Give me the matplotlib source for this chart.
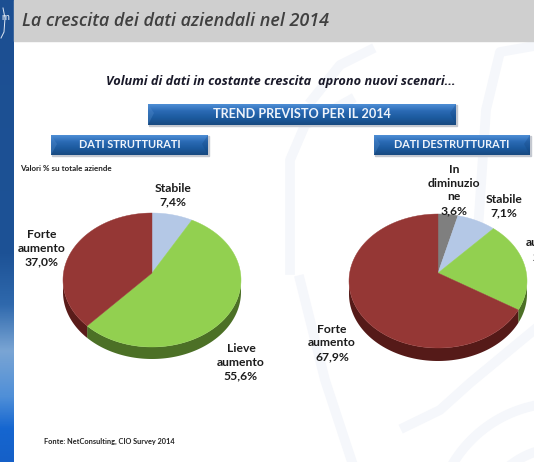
import matplotlib
matplotlib.use("Agg")
import matplotlib.pyplot as plt
import numpy as np
from matplotlib.colors import LinearSegmentedColormap
from matplotlib.patches import Rectangle

# Data
structured_labels = ["Stabile\n7,4%", "Lieve\naumento\n55,6%", "Forte\naumento\n37,0%"]
structured_values = [7.4, 55.6, 37.0]
structured_colors = ["#b4c8e6", "#92d050", "#953735"]
structured_sides = ["#7f90a8", "#4c7026", "#5a1c1a"]
structured_label_pos = [(173, 195), (241, 362), (42, 248)]

unstructured_labels = ["In\ndiminuzio\nne\n3,6%", "Stabile\n7,1%", "Lieve\naumento\n21,4%", "Forte\naumento\n67,9%"]
unstructured_values = [3.6, 7.1, 21.4, 67.9]
unstructured_colors = ["#7f7f7f", "#b4c8e6", "#92d050", "#953735"]
unstructured_sides = ["#4a4a4a", "#7f90a8", "#4c7026", "#551a18"]
unstructured_label_pos = [(454, 190), (504, 206), (550, 243), (332, 343)]

plt.rcParams["font.family"] = ["Lato", "DejaVu Sans"]

fig = plt.figure(figsize=(5.34, 4.62), dpi=100)
ax = fig.add_axes([0, 0, 1, 1])
ax.set_xlim(0, 534)
ax.set_ylim(462, 0)
ax.axis("off")


def gradient(x0, x1, y0, y1, colors, z=1):
    cmap = LinearSegmentedColormap.from_list("g", colors)
    grad = np.linspace(0, 1, 256).reshape(-1, 1)
    ax.imshow(grad, cmap=cmap, extent=(x0, x1, y1, y0), aspect="auto", zorder=z)


def button(x0, x1, y0, y1, text, size):
    ax.add_patch(Rectangle((x0 + 1, y0 + 1), x1 - x0, y1 - y0, color="#c4c8d0", zorder=3))
    gradient(x0, x1, y0, y1, ["#4f8fd6", "#2a6ab4", "#1c5a9e", "#18497f"], z=4)
    # bevelled end caps
    ax.fill([x0, x0 + 6, x0], [y0, y0 + 9, y1], color="#5b93d2", alpha=0.3, zorder=5, lw=0)
    ax.fill([x1, x1 - 6, x1], [y0, y0 + 9, y1], color="#123f75", alpha=0.25, zorder=5, lw=0)
    ax.text((x0 + x1) / 2, (y0 + y1) / 2, text, color="#eef3fa", fontsize=size, fontweight="bold",
            ha="center", va="center", zorder=6)


def pie3d(values, colors, sides, cx, apex_y, cy, rx, ry, depth):
    # cumulative angles run clockwise from twelve o'clock
    edges = np.cumsum([0] + list(values)) / sum(values) * 2 * np.pi
    for start, end, side in zip(edges[:-1], edges[1:], sides):
        t = np.linspace(start, end, 120)
        t = t[np.cos(t) <= 0.05]
        if len(t) < 2:
            continue
        xs = cx + rx * np.sin(t)
        ys = cy - ry * np.cos(t)
        ax.fill(np.r_[xs, xs[::-1]], np.r_[ys, ys[::-1] + depth], color=side, lw=0, zorder=7)
    for start, end, color in zip(edges[:-1], edges[1:], colors):
        t = np.linspace(start, end, 120)
        xs = np.r_[cx, cx + rx * np.sin(t)]
        ys = np.r_[apex_y, cy - ry * np.cos(t)]
        ax.fill(xs, ys, color=color, ec=color, lw=0.3, zorder=8)


# Page background, side strip and header
ax.add_patch(Rectangle((0, 0), 534, 462, color="white", zorder=0))
strip = LinearSegmentedColormap.from_list("strip", [
    (0.0, "#1c4f92"), (0.55, "#1d5296"), (0.66, "#2f69ad"), (0.76, "#7aa5d4"),
    (0.86, "#4f8fd8"), (0.93, "#1566d0"), (1.0, "#1560c8")])
ax.imshow(np.linspace(0, 1, 256).reshape(-1, 1), cmap=strip, extent=(0, 14, 462, 0), aspect="auto", zorder=1)

# Faint background emblem
ghost = "#f5f7fb"
t = np.linspace(np.pi, 1.9 * np.pi, 100)
for r in [125, 80]:
    ax.plot(560 + r * np.cos(t), 528 + r * np.sin(t), color=ghost, lw=7, zorder=2)
ax.plot([290, 290, 305, 350], [270, 160, 125, 100], color=ghost, lw=7, zorder=2)
ax.plot([300, 325, 352], [280, 380, 462], color=ghost, lw=7, zorder=2)
ax.plot([478, 486, 500, 534], [230, 110, 52, 46], color=ghost, lw=7, zorder=2)
ax.plot([405, 440, 470, 534], [427, 410, 383, 330], color=ghost, lw=7, zorder=2)
ax.plot([312, 340, 370], [100, 65, 50], color=ghost, lw=7, zorder=2)

ax.add_patch(Rectangle((14, 0), 520, 41, color="#cfcfcf", zorder=3))

ax.text(5.5, 17, "m", color="#eef3fa", fontsize=7, ha="center", va="center", zorder=3)
ax.plot([3, 5, 4, 1], [8, 18, 32, 38], color="#dfe8f4", lw=0.7, zorder=3)

# Titles
ax.text(22, 21, "La crescita dei dati aziendali nel 2014", fontsize=13.0, style="italic",
        fontweight="semibold", color="#404040", family="Open Sans", ha="left", va="center", zorder=3)
ax.text(281, 81, "Volumi di dati in costante crescita  aprono nuovi scenari...", fontsize=9.15,
        style="italic", fontweight="bold", color="#1a1a2a", family="Open Sans",
        ha="center", va="center", zorder=3)

button(148, 456, 104, 125, "TREND PREVISTO PER IL 2014", 9.1)
button(51, 208, 135, 155, "DATI STRUTTURATI", 7.9)
button(374, 530, 135, 155, "DATI DESTRUTTURATI", 7.8)

ax.text(20, 168.5, "Valori % su totale aziende", fontsize=5.8, color="#222222", fontweight="bold",
        ha="left", va="center", zorder=3)
ax.text(44, 441, "Fonte: NetConsulting, CIO Survey 2014", fontsize=5.3, color="#222222", fontweight="bold",
        ha="left", va="center", zorder=3)

pie3d(structured_values, structured_colors, structured_sides, 152, 273, 280, 89, 67, 12)
pie3d(unstructured_values, unstructured_colors, unstructured_sides, 438, 273, 281, 89, 67, 13)

for labels, positions in [(structured_labels, structured_label_pos), (unstructured_labels, unstructured_label_pos)]:
    for label, (x, y) in zip(labels, positions):
        ax.text(x, y, label, fontsize=8.7, fontweight="bold", color="#1c1c1c", ha="center", va="center",
                linespacing=1.3, zorder=9)

fig.savefig("out.png", dpi=100)
plt.close(fig)
